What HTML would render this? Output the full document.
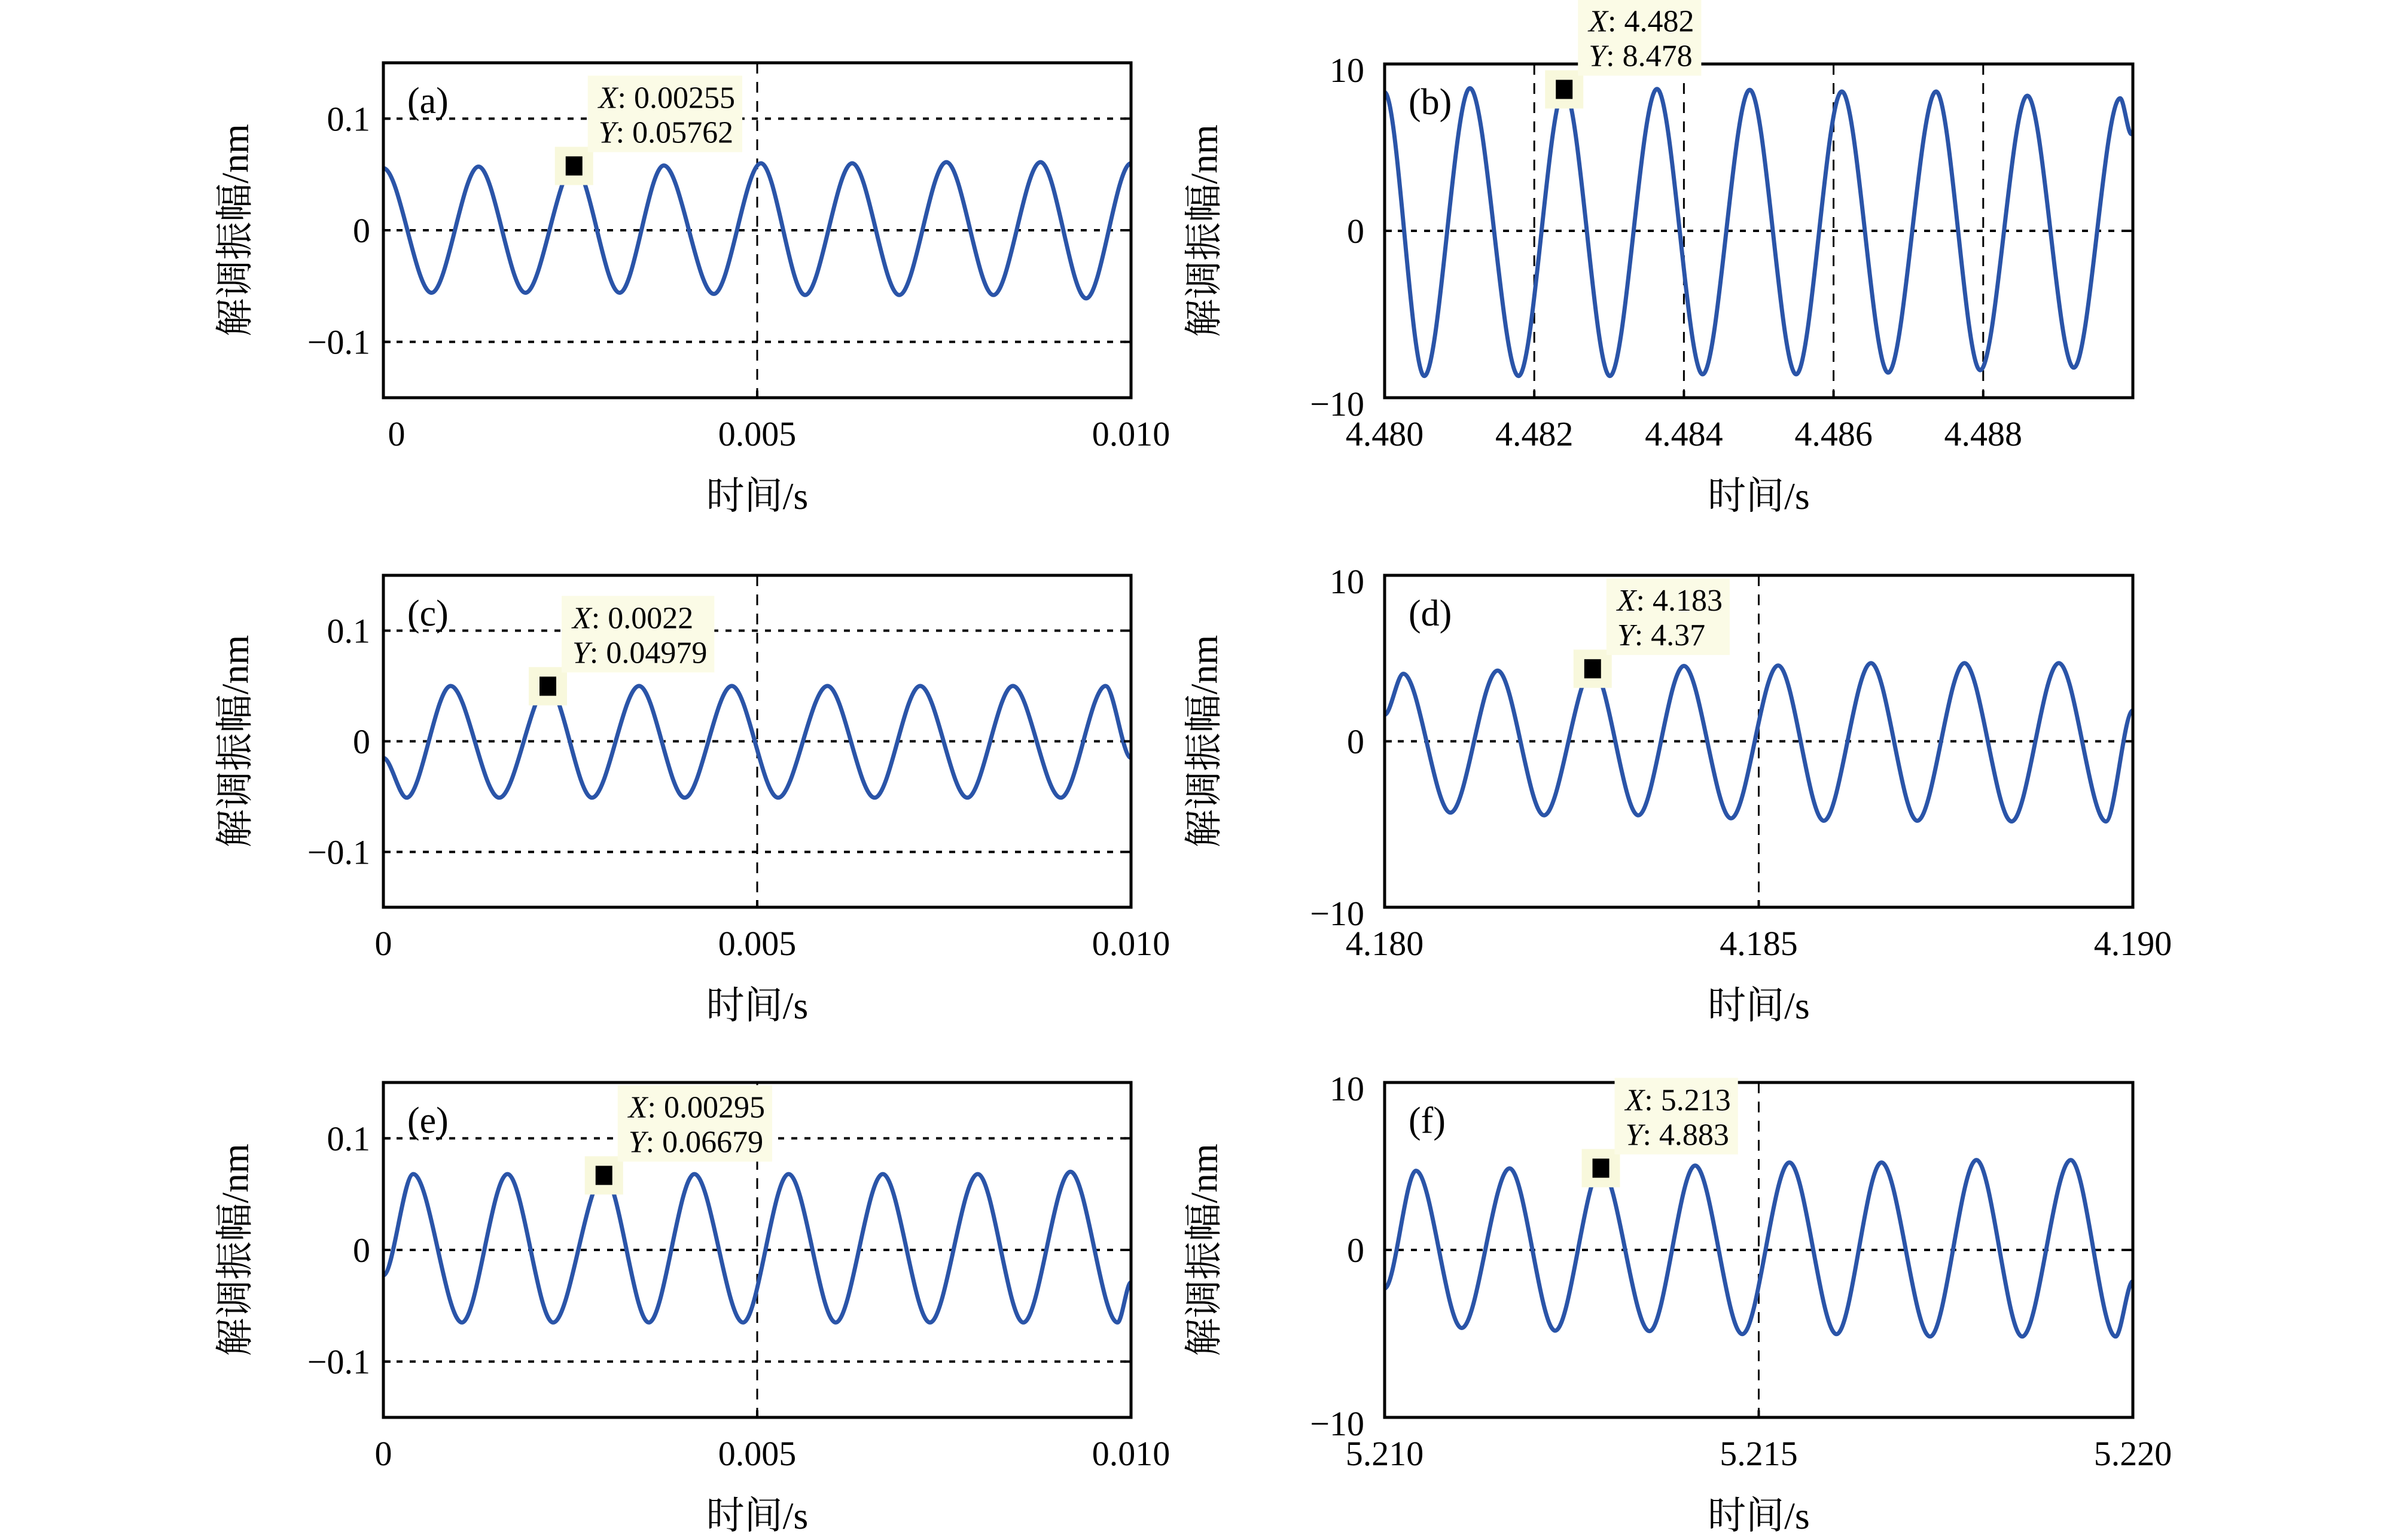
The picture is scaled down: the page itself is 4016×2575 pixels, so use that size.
<!DOCTYPE html>
<html><head><meta charset="utf-8"><style>
html,body{margin:0;padding:0;background:#fff;}
svg{display:block;}
</style></head><body>
<svg id="fig" xmlns="http://www.w3.org/2000/svg" width="4016" height="2575" viewBox="0 0 4016 2575"></svg>
<script>
// ---- data (time offsets in ms from panel start, amplitude values) ----
const aT=[0,0.644,1.273,1.90,2.55,3.16,3.75,4.42,5.05,5.64,6.27,6.90,7.53,8.16,8.79,9.40,10.0];
const aV=[0.0556,-0.056,0.057,-0.056,0.05762,-0.056,0.058,-0.057,0.060,-0.058,0.060,-0.058,0.061,-0.058,0.061,-0.061,0.060];
const bT=[0,0.53,1.14,1.79,2.40,3.01,3.64,4.25,4.88,5.50,6.11,6.73,7.37,7.96,8.59,9.21,9.83,9.98];
const bV=[8.3,-8.7,8.55,-8.7,8.478,-8.7,8.5,-8.6,8.45,-8.6,8.35,-8.5,8.35,-8.35,8.1,-8.2,7.95,5.8];
const cT=[0,0.31,0.90,1.55,2.20,2.79,3.42,4.03,4.66,5.28,5.94,6.57,7.18,7.81,8.42,9.06,9.66,10.0];
const cV=[-0.015,-0.051,0.050,-0.051,0.04979,-0.051,0.050,-0.051,0.050,-0.051,0.050,-0.051,0.050,-0.051,0.050,-0.051,0.050,-0.015];
const dT=[0,0.25,0.88,1.51,2.13,2.78,3.39,4.00,4.63,5.26,5.87,6.50,7.12,7.75,8.38,9.01,9.64,10.0];
const dV=[1.6,4.07,-4.3,4.26,-4.46,4.37,-4.46,4.54,-4.64,4.57,-4.79,4.71,-4.79,4.71,-4.83,4.71,-4.83,1.86];
const eT=[0,0.40,1.05,1.66,2.27,2.95,3.55,4.16,4.81,5.42,6.05,6.68,7.31,7.95,8.56,9.19,9.82,10.0];
const eV=[-0.0227,0.068,-0.065,0.068,-0.065,0.06679,-0.065,0.068,-0.065,0.068,-0.065,0.068,-0.065,0.068,-0.065,0.070,-0.065,-0.029];
const fT=[0,0.42,1.03,1.67,2.28,2.89,3.54,4.15,4.78,5.41,6.04,6.64,7.29,7.91,8.52,9.17,9.77,10.0];
const fV=[-2.3,4.73,-4.66,4.87,-4.82,4.883,-4.85,5.04,-5.03,5.22,-5.03,5.22,-5.17,5.37,-5.17,5.37,-5.17,-1.87];
// tick labels
const xTicksSmall=[0,5,10];
const xLabelsSmall=["0","0.005","0.010"];
const xTicksB=[0,2,4,6,8];
const xLabelsB=["4.480","4.482","4.484","4.486","4.488"];
const xLabelsD=["4.180","4.185","4.190"];
const xLabelsF=["5.210","5.215","5.220"];
const yTicksSmall=[0.1,0,-0.1];
const yLabelsSmall=["0.1","0","\u22120.1"];
const yTicksBig=[10,0,-10];
const yLabelsBig=["10","0","\u221210"];
// datatips
const tipX=["0.00255","4.482","0.0022","4.183","0.00295","5.213"];
const tipY=["0.05762","8.478","0.04979","4.37","0.06679","4.883"];
const tipIdx=[4,4,4,5,5,5];

const NS="http://www.w3.org/2000/svg";
const svg=document.getElementById('fig');
function mk(tag,attrs,parent){const e=document.createElementNS(NS,tag);for(const k in attrs)e.setAttribute(k,attrs[k]);(parent||svg).appendChild(e);return e;}

const SERIF='"Liberation Serif","Noto Serif CJK SC",serif';
const BLUE='#2a54a8';

const panels=[
 {id:'a',T:aT,V:aV,x0:641,x1:1891,y0:105,h:560,ymax:0.15,xt:xTicksSmall,xl:xLabelsSmall,yt:yTicksSmall,yl:yLabelsSmall,hg:[0.1,0,-0.1],vg:[5],ylx:393,lab:0},
 {id:'b',T:bT,V:bV,x0:2315,x1:3566,y0:107,h:558,ymax:10,xt:xTicksB,xl:xLabelsB,yt:yTicksBig,yl:yLabelsBig,hg:[0],vg:[2,4,6,8],ylx:2013,lab:1},
 {id:'c',T:cT,V:cV,x0:641,x1:1891,y0:962,h:555,ymax:0.15,xt:xTicksSmall,xl:xLabelsSmall,yt:yTicksSmall,yl:yLabelsSmall,hg:[0.1,0,-0.1],vg:[5],ylx:393,lab:0},
 {id:'d',T:dT,V:dV,x0:2315,x1:3566,y0:962,h:555,ymax:10,xt:xTicksSmall,xl:xLabelsD,yt:yTicksBig,yl:yLabelsBig,hg:[0],vg:[5],ylx:2013,lab:1},
 {id:'e',T:eT,V:eV,x0:641,x1:1891,y0:1810,h:560,ymax:0.15,xt:xTicksSmall,xl:xLabelsSmall,yt:yTicksSmall,yl:yLabelsSmall,hg:[0.1,0,-0.1],vg:[5],ylx:393,lab:0},
 {id:'f',T:fT,V:fV,x0:2315,x1:3566,y0:1810,h:560,ymax:10,xt:xTicksSmall,xl:xLabelsF,yt:yTicksBig,yl:yLabelsBig,hg:[0],vg:[5],ylx:2013,lab:1}
];

panels.forEach((p,pi)=>{
  const g=mk('g',{});
  
  
  const X=t=>p.x0+(t/10)*(p.x1-p.x0);
  const Y=v=>p.y0+p.h/2-(v/p.ymax)*(p.h/2);
  const yb=p.y0+p.h;
  p.hg.forEach(v=>{
    const l=mk('line',{x1:p.x0,x2:p.x1,y1:Y(v),y2:Y(v),stroke:'#000','stroke-width':4,'stroke-dasharray':'10 12'},g);
    
    
  });
  p.vg.forEach(t=>{
    const l=mk('line',{x1:X(t),x2:X(t),y1:p.y0,y2:yb,stroke:'#000','stroke-width':3,'stroke-dasharray':'18 14'},g);
    
    
  });
  let d='M'+X(p.T[0]).toFixed(1)+','+Y(p.V[0]).toFixed(1);
  for(let i=1;i<p.T.length;i++){
    const xa=X(p.T[i-1]),ya=Y(p.V[i-1]),xb=X(p.T[i]),yb2=Y(p.V[i]);
    const dx=(xb-xa)*0.33;
    d+=' C'+(xa+dx).toFixed(1)+','+ya.toFixed(1)+' '+(xb-dx).toFixed(1)+','+yb2.toFixed(1)+' '+xb.toFixed(1)+','+yb2.toFixed(1);
  }
  const path=mk('path',{d:d,fill:'none',stroke:BLUE,'stroke-width':7,'stroke-linejoin':'round'},g);
  
  
  const fr=mk('rect',{x:p.x0,y:p.y0,width:p.x1-p.x0,height:p.h,fill:'none',stroke:'#000','stroke-width':5},g);
  
  
  p.yt.forEach((v,i)=>{
    mk('line',{x1:p.x0,x2:p.x0+12,y1:Y(v),y2:Y(v),stroke:'#000','stroke-width':4},g);
    mk('line',{x1:p.x1-12,x2:p.x1,y1:Y(v),y2:Y(v),stroke:'#000','stroke-width':4},g);
    const t=mk('text',{x:p.x0-(p.lab?34:22),y:Y(v)+20+(p.lab&&i==0?10:0)+(p.lab&&i==2?10:0),'text-anchor':'end','font-family':SERIF,'font-size':58},g);
    t.textContent=p.yl[i];
    
    
  });
  p.xt.forEach((tv,i)=>{
    mk('line',{x1:X(tv),x2:X(tv),y1:yb,y2:yb-12,stroke:'#000','stroke-width':4},g);
    const t=mk('text',{x:X(tv)+(p.id==='a'&&i===0?22:0),y:yb+80,'text-anchor':'middle','font-family':SERIF,'font-size':58},g);
    t.textContent=p.xl[i];
    
    
  });
  const xt=mk('text',{x:(p.x0+p.x1)/2,y:yb+186,'text-anchor':'middle','font-family':SERIF,'font-size':64},g);
  xt.textContent='时间/s';
  
  
  const cy=p.y0+p.h/2;
  const yt=mk('text',{x:p.ylx,y:cy,'text-anchor':'middle','dominant-baseline':'central','font-family':SERIF,'font-size':64,transform:'rotate(-90 '+p.ylx+' '+cy+')'},g);
  yt.textContent='解调振幅/nm';
  
  
  const pl=mk('text',{x:p.x0+40,y:p.y0+84,'font-family':SERIF,'font-size':62},g);
  pl.textContent='('+p.id+')';
  
  
  const k=tipIdx[pi];
  const mx=X(p.T[k]),my=Y(p.V[k]);
  const mb=mk('rect',{x:mx-32,y:my-32,width:64,height:64,fill:'#f8f8dc'},g);
  
  
  const ms=mk('rect',{x:mx-14,y:my-16,width:28,height:32,fill:'#000'},g);
  
  
  const tg=mk('g',{},g);
  
  
  const tl=mx+23, tb=my-23, th=128;
  const bg=mk('rect',{x:tl,y:tb-th,height:th,width:280,fill:'#fbfbe6'},tg);
  const t1=mk('text',{x:tl+18,y:tb-th+54,'font-family':SERIF,'font-size':52},tg);
  const i1=mk('tspan',{'font-style':'italic'},t1);i1.textContent='X';
  const r1=mk('tspan',{},t1);r1.textContent=': '+tipX[pi];
  const t2=mk('text',{x:tl+18,y:tb-th+112,'font-family':SERIF,'font-size':52},tg);
  const i2=mk('tspan',{'font-style':'italic'},t2);i2.textContent='Y';
  const r2=mk('tspan',{},t2);r2.textContent=': '+tipY[pi];
  const w=Math.max(t1.getComputedTextLength(),t2.getComputedTextLength());
  bg.setAttribute('width',w+30);
});
</script>
</body></html>
